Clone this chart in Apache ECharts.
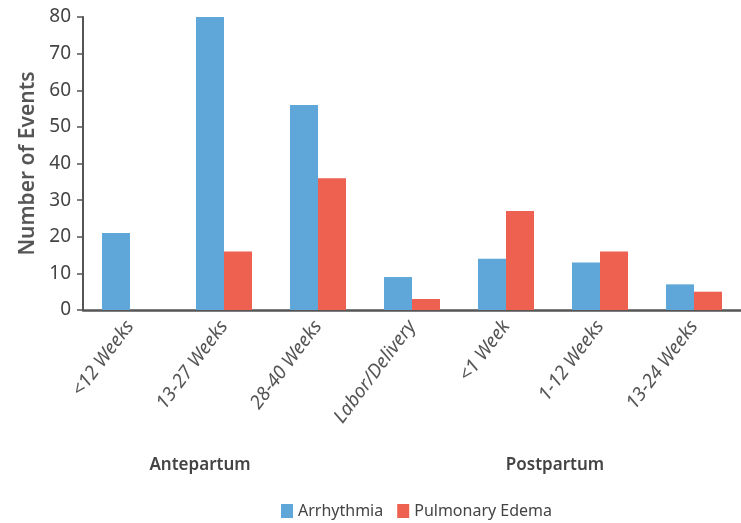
<!DOCTYPE html>
<html>
<head>
<meta charset="utf-8">
<script src="https://cdn.jsdelivr.net/npm/echarts@6/dist/echarts.min.js"></script>
<style>
  html, body { margin: 0; padding: 0; background: #fff; }
  #chart { width: 741px; height: 523px; }
</style>
</head>
<body>
<div id="chart"></div>
<script>
// Timing of cardiac events across pregnancy and after delivery
const categories = ['<12 Weeks', '13-27 Weeks', '28-40 Weeks', 'Labor/Delivery', '<1 Week', '1-12 Weeks', '13-24 Weeks'];
const arrhythmia = [21, 80, 56, 9, 14, 13, 7];
const pulmonaryEdema = [0, 16, 36, 3, 27, 16, 5];
const yTicks = [0, 10, 20, 30, 40, 50, 60, 70, 80];
const periods = ['Antepartum', 'Postpartum'];

const FONT = '"Noto Sans", "Open Sans", sans-serif';
const chart = echarts.init(document.getElementById('chart'));

chart.setOption({
  animation: false,
  textStyle: { fontFamily: FONT },
  grid: { left: 83, right: 0, top: 17, bottom: 213, containLabel: false },
  legend: {
    data: ['Arrhythmia', 'Pulmonary Edema'],
    left: 276,
    top: 498,
    itemWidth: 12,
    itemHeight: 14,
    itemGap: 14,
    icon: 'rect',
    textStyle: { fontFamily: FONT, fontSize: 16, color: '#444' }
  },
  xAxis: {
    type: 'category',
    data: categories,
    axisLine: { lineStyle: { color: '#555', width: 2.5 } },
    axisTick: { show: false },
    axisLabel: {
      rotate: 53,
      interval: 0,
      margin: 13,
      fontSize: 19,
      fontStyle: 'italic',
      color: '#555',
      fontFamily: FONT
    }
  },
  yAxis: {
    type: 'value',
    min: yTicks[0],
    max: yTicks[yTicks.length - 1],
    interval: 10,
    name: 'Number of Events',
    nameLocation: 'middle',
    nameGap: 43,
    nameTextStyle: { fontSize: 21, fontWeight: 600, color: '#555', fontFamily: FONT },
    axisLine: { show: true, lineStyle: { color: '#555', width: 2 } },
    axisTick: { show: true, length: 6, lineStyle: { color: '#555', width: 1.5 } },
    axisLabel: { fontSize: 19, color: '#444', margin: 12, fontFamily: FONT },
    splitLine: { show: false }
  },
  series: [
    {
      name: 'Arrhythmia',
      type: 'bar',
      data: arrhythmia,
      barWidth: 28,
      barGap: '0%',
      itemStyle: { color: '#5EA7D8' }
    },
    {
      name: 'Pulmonary Edema',
      type: 'bar',
      data: pulmonaryEdema,
      barWidth: 28,
      barGap: '0%',
      itemStyle: { color: '#EE604F' }
    }
  ],
  graphic: [
    {
      type: 'text', x: 200, y: 465,
      style: { text: periods[0], font: '600 17px ' + FONT, fill: '#444', align: 'center', verticalAlign: 'middle' }
    },
    {
      type: 'text', x: 555, y: 465,
      style: { text: periods[1], font: '600 17px ' + FONT, fill: '#444', align: 'center', verticalAlign: 'middle' }
    }
  ]
});
</script>
</body>
</html>
